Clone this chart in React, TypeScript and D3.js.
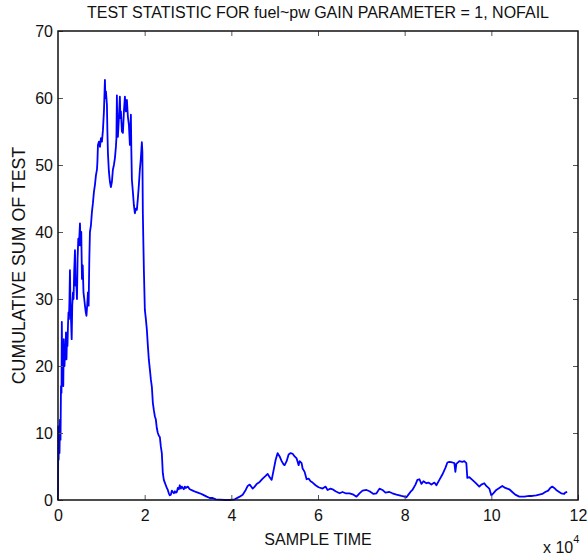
import React, { useRef, useEffect } from 'react';
import * as d3 from 'd3';

// sample time, in units of 10^4 samples
const sampleTime = [
  0, 0.007, 0.014, 0.023, 0.035, 0.046, 0.058, 0.069, 0.081, 0.088,
  0.099, 0.111, 0.122, 0.134, 0.150, 0.161, 0.173, 0.184, 0.196, 0.207,
  0.219, 0.230, 0.242, 0.253, 0.265, 0.276, 0.288, 0.300, 0.316, 0.329,
  0.346, 0.359, 0.373, 0.392, 0.406, 0.419, 0.438, 0.452, 0.468, 0.484,
  0.507, 0.521, 0.537, 0.553, 0.571, 0.588, 0.606, 0.622, 0.641, 0.657,
  0.673, 0.691, 0.707, 0.723, 0.737, 0.760, 0.783, 0.806, 0.829, 0.852,
  0.876, 0.899, 0.910, 0.922, 0.945, 0.968, 0.991, 1.014, 1.037, 1.060,
  1.083, 1.094, 1.106, 1.129, 1.140, 1.152, 1.175, 1.198, 1.221, 1.244,
  1.267, 1.290, 1.313, 1.336, 1.348, 1.359, 1.371, 1.382, 1.405, 1.428,
  1.440, 1.452, 1.475, 1.498, 1.521, 1.544, 1.567, 1.590, 1.613, 1.636,
  1.659, 1.682, 1.693, 1.705, 1.728, 1.751, 1.774, 1.797, 1.820, 1.843,
  1.866, 1.889, 1.912, 1.935, 1.947, 1.958, 1.970, 1.982, 2.004, 2.028,
  2.051, 2.074, 2.097, 2.120, 2.143, 2.166, 2.189, 2.212, 2.235, 2.258,
  2.281, 2.304, 2.327, 2.350, 2.373, 2.396, 2.419, 2.442, 2.465, 2.488,
  2.511, 2.534, 2.557, 2.580, 2.604, 2.627, 2.650, 2.673, 2.696, 2.719,
  2.742, 2.765, 2.788, 2.811, 2.834, 2.857, 2.880, 2.903, 2.926, 2.949,
  2.995, 3.041, 3.110, 3.180, 3.272, 3.341, 3.433, 3.502, 3.571, 3.641,
  3.733, 3.848, 3.963, 4.078, 4.193, 4.262, 4.332, 4.378, 4.424, 4.470,
  4.493, 4.539, 4.585, 4.654, 4.723, 4.792, 4.838, 4.885, 4.931, 4.977,
  5.023, 5.069, 5.115, 5.161, 5.207, 5.230, 5.276, 5.322, 5.369, 5.415,
  5.461, 5.507, 5.553, 5.576, 5.622, 5.645, 5.691, 5.737, 5.783, 5.829,
  5.875, 5.944, 6.013, 6.106, 6.175, 6.221, 6.290, 6.336, 6.405, 6.497,
  6.566, 6.636, 6.728, 6.820, 6.889, 6.958, 7.027, 7.119, 7.189, 7.281,
  7.350, 7.419, 7.488, 7.557, 7.649, 7.718, 7.811, 7.926, 7.995, 8.041,
  8.087, 8.133, 8.179, 8.249, 8.294, 8.341, 8.387, 8.433, 8.502, 8.548,
  8.617, 8.686, 8.732, 8.801, 8.870, 8.940, 8.986, 9.032, 9.101, 9.147,
  9.170, 9.193, 9.262, 9.331, 9.377, 9.423, 9.446, 9.493, 9.562, 9.631,
  9.677, 9.723, 9.769, 9.838, 9.884, 9.953, 9.999, 10.045, 10.115, 10.184,
  10.253, 10.322, 10.368, 10.414, 10.483, 10.552, 10.645, 10.760, 10.875, 10.944,
  11.036, 11.105, 11.174, 11.244, 11.313, 11.359, 11.405, 11.451, 11.497, 11.566,
  11.612, 11.681, 11.704, 11.750,
];

// cumulative sum of the test statistic
const cusum = [
  0, 11, 6, 10, 7, 12, 9, 17, 16, 26.6,
  18, 23, 17, 24, 20, 22, 21, 25, 21, 24,
  23, 26, 28, 27, 30, 34.3, 29, 27, 24, 29,
  31, 30, 34, 37.3, 32, 33, 30, 36, 39, 38,
  41.3, 38, 40, 33, 35, 31, 30, 29, 28, 27.5,
  29, 31, 29, 36, 40, 41, 43, 44.3, 46, 47,
  48.5, 49.3, 50.5, 53, 53.5, 52.7, 54, 53.5, 55.2, 58,
  62.7, 60, 61, 59, 55, 51.8, 49, 47.5, 46.7, 47.5,
  49.3, 50, 51, 52.7, 54, 60.4, 55, 54.2, 57, 60.2,
  57, 58, 55, 54.8, 58, 60.2, 58, 59.7, 57.2, 56,
  53, 57.5, 52, 47.8, 46, 44, 42.8, 43.5, 43.3, 45,
  47, 49.3, 51, 53.4, 52, 42.8, 38.4, 34.3, 28.4, 27,
  25.4, 23, 20.9, 19.5, 18, 16.9, 14.5, 13.4, 12.5, 12,
  10.7, 10, 9.6, 9.4, 8, 7, 4, 3, 2.6, 2.2,
  1.8, 1.5, 1.0, 0.7, 0.8, 1.4, 1.2, 1.0, 1.3, 1.1,
  1.2, 1.8, 1.6, 2.2, 1.7, 2.0, 1.8, 1.6, 2.0, 1.8,
  2.0, 1.6, 1.4, 1.2, 1.0, 0.8, 0.5, 0.3, 0.3, 0.1,
  0.05, 0, 0, 0.1, 0.5, 0.8, 1.5, 2.1, 2.3, 1.9,
  1.7, 2.0, 2.4, 2.7, 3.2, 3.6, 3.9, 3.4, 3.0, 4.5,
  6.0, 7.0, 6.5, 5.8, 5.3, 5.2, 5.8, 6.8, 7.0, 6.9,
  6.5, 6.2, 5.2, 5.8, 5.5, 4.7, 4.2, 3.1, 3.2, 2.8,
  2.6, 2.2, 1.9, 1.7, 2.0, 1.5, 1.7, 1.6, 1.3, 1.0,
  1.2, 1.0, 1.0, 0.8, 0.5, 1.0, 1.4, 1.5, 1.3, 0.9,
  1.0, 1.7, 1.5, 1.1, 1.2, 1.0, 0.8, 0.6, 0.5, 0.4,
  0.8, 1.2, 1.5, 2.3, 3.0, 3.1, 2.4, 2.8, 2.5, 2.6,
  2.3, 2.6, 2.2, 3.0, 3.8, 4.8, 5.6, 5.7, 5.6, 5.5,
  4.2, 5.4, 5.8, 5.7, 5.8, 5.5, 3.3, 3.4, 3.0, 2.6,
  2.3, 2.0, 2.3, 2.5, 2.1, 1.7, 0.7, 1.0, 1.5, 1.8,
  2.1, 1.8, 1.7, 1.6, 1.2, 0.8, 0.5, 0.5, 0.6, 0.6,
  0.7, 0.8, 0.9, 1.2, 1.4, 1.8, 2.0, 1.8, 1.5, 1.2,
  1.0, 0.9, 1.1, 1.2,
];

const xTicks = [0, 2, 4, 6, 8, 10, 12];
const yTicks = [0, 10, 20, 30, 40, 50, 60, 70];

const title = 'TEST STATISTIC FOR fuel~pw GAIN PARAMETER = 1, NOFAIL';
const xLabel = 'SAMPLE TIME';
const yLabel = 'CUMULATIVE SUM OF TEST';

const App = () => {
  const svgRef = useRef<SVGSVGElement>(null);

  useEffect(() => {
    const width = 588;
    const height = 559;
    const margin = { top: 31, right: 10, bottom: 59, left: 58 };
    const font = '"Liberation Sans", Arial, Helvetica, sans-serif';

    const svg = d3.select(svgRef.current)
      .attr('width', width)
      .attr('height', height);

    svg.selectAll('*').remove();

    const x = d3.scaleLinear().domain([0, 12]).range([margin.left, width - margin.right]);
    const y = d3.scaleLinear().domain([0, 70]).range([height - margin.bottom, margin.top]);

    svg.append('rect')
      .attr('width', width)
      .attr('height', height)
      .attr('fill', 'white');

    // the trace
    const points = sampleTime.map((t, i) => [t, cusum[i]] as [number, number]);
    const line = d3.line<[number, number]>()
      .x(d => x(d[0]))
      .y(d => y(d[1]));

    svg.append('path')
      .datum(points)
      .attr('d', line)
      .attr('fill', 'none')
      .attr('stroke', '#0000ff')
      .attr('stroke-width', 1.8)
      .attr('stroke-linejoin', 'round');

    // axes, ticks pointing inward on all four sides
    const styleAxis = (g: d3.Selection<SVGGElement, unknown, null, undefined>) => {
      g.select('.domain').remove();
      g.selectAll('.tick line').attr('stroke', '#555').attr('stroke-width', 1);
      g.selectAll('.tick text')
        .attr('fill', '#111')
        .style('font-family', font)
        .style('font-size', '16px');
    };

    svg.append('g')
      .attr('transform', `translate(0, ${y(0)})`)
      .call(d3.axisBottom(x).tickValues(xTicks).tickSize(-5).tickPadding(10).tickFormat(d3.format('d')))
      .call(styleAxis);

    svg.append('g')
      .attr('transform', `translate(${x(0)}, 0)`)
      .call(d3.axisLeft(y).tickValues(yTicks).tickSize(-5).tickPadding(5).tickFormat(d3.format('d')))
      .call(styleAxis);

    svg.append('g')
      .attr('transform', `translate(0, ${y(70)})`)
      .call(d3.axisTop(x).tickValues(xTicks.filter(v => v > 0 && v < 12)).tickSize(-5).tickFormat(() => ''))
      .call(styleAxis);

    svg.append('g')
      .attr('transform', `translate(${x(12)}, 0)`)
      .call(d3.axisRight(y).tickValues(yTicks.filter(v => v > 0 && v < 70)).tickSize(-5).tickFormat(() => ''))
      .call(styleAxis);

    // plot box
    svg.append('rect')
      .attr('x', x(0))
      .attr('y', y(70))
      .attr('width', x(12) - x(0))
      .attr('height', y(0) - y(70))
      .attr('fill', 'none')
      .attr('stroke', '#111')
      .attr('stroke-width', 1.5);

    // labels
    svg.append('text')
      .attr('x', (x(0) + x(12)) / 2)
      .attr('y', 18)
      .attr('text-anchor', 'middle')
      .style('font-family', font)
      .style('font-size', '16px')
      .attr('fill', '#111')
      .text(title);

    svg.append('text')
      .attr('x', (x(0) + x(12)) / 2)
      .attr('y', 545)
      .attr('text-anchor', 'middle')
      .style('font-family', font)
      .style('font-size', '16px')
      .attr('fill', '#111')
      .text(xLabel);

    svg.append('text')
      .attr('transform', `translate(25, ${(y(0) + y(70)) / 2}) rotate(-90)`)
      .attr('text-anchor', 'middle')
      .style('font-family', font)
      .style('font-size', '17.8px')
      .attr('fill', '#111')
      .text(yLabel);

    const exp = svg.append('text')
      .attr('x', 543)
      .attr('y', 553)
      .style('font-family', font)
      .style('font-size', '16px')
      .attr('fill', '#111');
    exp.append('tspan').text('x 10');
    exp.append('tspan')
      .attr('dy', -10)
      .style('font-size', '11px')
      .text('4');
  }, []);

  return (
    <div style={{ position: 'absolute', left: 0, top: 0 }}>
      <svg ref={svgRef}></svg>
    </div>
  );
};

export default App;
